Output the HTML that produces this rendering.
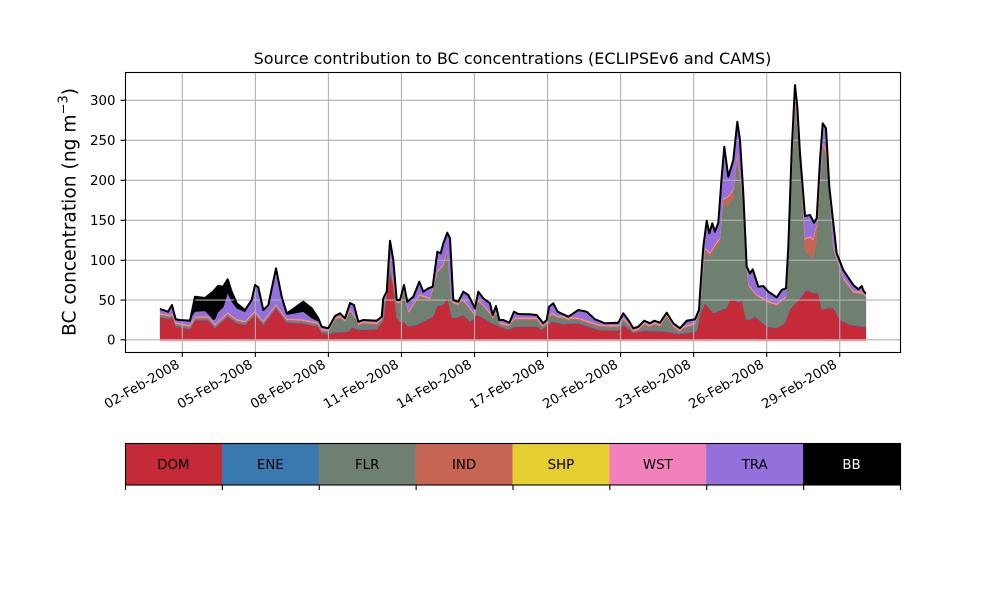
<!DOCTYPE html>
<html><head><meta charset="utf-8">
<style>
body{margin:0;background:#fff}
svg{display:block}
text{font-family:"DejaVu Sans","Liberation Sans",sans-serif;fill:#000}
</style></head>
<body>
<svg id="s" width="1000" height="600" xmlns="http://www.w3.org/2000/svg">
<rect width="1000" height="600" fill="#fff"/>
<g id="areas"></g>
<g stroke="#b0b0b0" stroke-width="1.1" fill="none">
<line x1="125" y1="100.3" x2="900" y2="100.3"/>
<line x1="125" y1="140.3" x2="900" y2="140.3"/>
<line x1="125" y1="180.3" x2="900" y2="180.3"/>
<line x1="125" y1="220.3" x2="900" y2="220.3"/>
<line x1="125" y1="260.3" x2="900" y2="260.3"/>
<line x1="125" y1="300.1" x2="900" y2="300.1"/>
<line x1="125" y1="339.8" x2="900" y2="339.8"/>
<line x1="182.3" y1="72" x2="182.3" y2="352"/>
<line x1="255.35" y1="72" x2="255.35" y2="352"/>
<line x1="328.4" y1="72" x2="328.4" y2="352"/>
<line x1="401.45" y1="72" x2="401.45" y2="352"/>
<line x1="474.5" y1="72" x2="474.5" y2="352"/>
<line x1="547.55" y1="72" x2="547.55" y2="352"/>
<line x1="620.6" y1="72" x2="620.6" y2="352"/>
<line x1="693.65" y1="72" x2="693.65" y2="352"/>
<line x1="766.7" y1="72" x2="766.7" y2="352"/>
<line x1="839.75" y1="72" x2="839.75" y2="352"/>
</g>
<line x1="160" y1="340.2" x2="866" y2="340.2" stroke="#e0a0a8" stroke-width="2"/>
<g id="lines"></g>
<rect x="125.5" y="72.5" width="775" height="280" fill="none" stroke="#000" stroke-width="1.1"/>
<g stroke="#000" stroke-width="1.1">
<line x1="120.5" y1="100.3" x2="125" y2="100.3"/>
<line x1="120.5" y1="140.3" x2="125" y2="140.3"/>
<line x1="120.5" y1="180.3" x2="125" y2="180.3"/>
<line x1="120.5" y1="220.3" x2="125" y2="220.3"/>
<line x1="120.5" y1="260.3" x2="125" y2="260.3"/>
<line x1="120.5" y1="300.1" x2="125" y2="300.1"/>
<line x1="120.5" y1="339.8" x2="125" y2="339.8"/>
<line x1="182.3" y1="352" x2="182.3" y2="357"/>
<line x1="255.35" y1="352" x2="255.35" y2="357"/>
<line x1="328.4" y1="352" x2="328.4" y2="357"/>
<line x1="401.45" y1="352" x2="401.45" y2="357"/>
<line x1="474.5" y1="352" x2="474.5" y2="357"/>
<line x1="547.55" y1="352" x2="547.55" y2="357"/>
<line x1="620.6" y1="352" x2="620.6" y2="357"/>
<line x1="693.65" y1="352" x2="693.65" y2="357"/>
<line x1="766.7" y1="352" x2="766.7" y2="357"/>
<line x1="839.75" y1="352" x2="839.75" y2="357"/>
</g>
<g font-size="13.33" text-anchor="end">
<text x="115.5" y="105">300</text>
<text x="115.5" y="145">250</text>
<text x="115.5" y="185">200</text>
<text x="115.5" y="225">150</text>
<text x="115.5" y="265">100</text>
<text x="115.5" y="304.8">50</text>
<text x="115.5" y="344.5">0</text>
</g>
<g font-size="13.33" text-anchor="end">
<text transform="translate(180.5,367) rotate(-30)">02-Feb-2008</text>
<text transform="translate(253.5,367) rotate(-30)">05-Feb-2008</text>
<text transform="translate(326.6,367) rotate(-30)">08-Feb-2008</text>
<text transform="translate(399.6,367) rotate(-30)">11-Feb-2008</text>
<text transform="translate(472.7,367) rotate(-30)">14-Feb-2008</text>
<text transform="translate(545.7,367) rotate(-30)">17-Feb-2008</text>
<text transform="translate(618.8,367) rotate(-30)">20-Feb-2008</text>
<text transform="translate(691.8,367) rotate(-30)">23-Feb-2008</text>
<text transform="translate(764.9,367) rotate(-30)">26-Feb-2008</text>
<text transform="translate(837.9,367) rotate(-30)">29-Feb-2008</text>
</g>
<text x="512.5" y="64" font-size="16" text-anchor="middle">Source contribution to BC concentrations (ECLIPSEv6 and CAMS)</text>
<text transform="translate(75.5,212) rotate(-90)" font-size="18.67" text-anchor="middle">BC concentration (ng m<tspan font-size="13" dy="-8">−3</tspan><tspan dy="8">)</tspan></text>
<g id="cbar"></g>
</svg>
<script>
(function(){
var NS="http://www.w3.org/2000/svg";
function mk(a){var p=[];for(var i=0;i<a.length;i+=2)p.push([a[i],a[i+1]]);return function(x){if(x<=p[0][0])return p[0][1];for(var i=1;i<p.length;i++){if(x<=p[i][0]){var x0=p[i-1][0],y0=p[i-1][1],x1=p[i][0],y1=p[i][1];return y0+(y1-y0)*(x-x0)/(x1-x0);}}return p[p.length-1][1];};}
var Tp=[160,309,168,311.7,172,305,175.7,319.3,180,320,190,320.7,195,296.7,205,298,213,291.7,218,286,223,286.7,227.7,279.3,231.7,291.7,236.7,303.3,245,310,251.7,300,255,285,258.3,287.3,263.3,310,268.3,305,276,268.3,281.7,296.7,286.7,313.3,291.7,310,303.3,301.7,311.7,308.3,318.3,318.3,321.7,326.7,328.3,328.3,335,316,340,313.3,345,318.3,350,303,354,305,358.3,321.7,363.3,320,376.7,320.7,381.7,316.7,383.3,298.3,386.7,291.7,390,240.7,393.3,260,396.7,300,400,300,404,285,407.3,301.7,413.3,296.7,419.3,281.7,423.3,291.7,428.3,288.3,432.7,286.7,437.3,251.7,440.7,253.3,443.3,243.3,447.3,232.7,450,238.3,453.3,300,458.3,301.7,463.3,291.7,468.3,295,475,308.3,478.3,291.7,483.3,298.3,490,303.3,492.7,315,496,306,499.3,320,503.3,320,509.3,322.7,514,311.7,518.3,314,530,314.3,536.7,315,543.3,323.3,546.7,320,549,306.7,553.3,303.3,557.7,311.7,568.3,316.7,578.3,310,586.7,311.7,595,319.3,605,323.3,618.3,322.7,623.3,313.3,628.3,320,633.3,328.3,638.3,326.7,644.3,320.7,650,323.3,654.3,320.7,660,322.7,666.7,312.7,673.3,323.3,680,328.3,686.7,320.7,695,319.3,699,310,700,293.3,703.3,246.7,706.7,220.7,709.3,233.3,712.3,223.3,715,231.7,718.3,222.7,721.7,176.7,724.3,146.7,728.3,176.7,733.3,160,737.3,121.7,740,140,743.3,193.3,746.7,266.7,750,273.3,752.7,269.3,758.3,286.7,763.3,286,768.3,291.7,776.7,297.3,781.7,290,786,288.3,788.3,246.7,791.7,150,795,85,797.3,106.7,800,153.3,805,216,810,215,814,222.7,816.7,218.3,820,160,822.7,123.3,826,128.3,829.3,186.7,836.7,253.3,843.3,270,853.3,285,858.3,289.3,861.7,286,864,291.7,865.7,293.3];
var BBp=[160,0,190,0,192,5,195,15,205,13,210,22,213,28,215,30,220,24,224,20,227.7,14,231.7,10,236.7,5,245,2,255,0,276,0,286,1,291.7,4,303.3,10,311.7,10,318.3,3,322,0,866,0];
var Dp=[160,317.3,170,319.3,172.3,317,175.7,326.7,190,329.3,195,320.5,208.3,320.5,215,328.3,227.7,316.5,236.7,323.3,245,325,255,315,263.3,325,276,308.3,286.7,322.7,301.7,323.3,318.3,326.7,321.7,333.3,328.3,334,336.7,332.5,348.3,331.7,352,327.5,358.3,330,376.7,329.3,383.3,320,390,271.7,393.3,286.7,396.7,318,401.7,323,404,322,408.3,326.7,416.7,325,426.7,320,433.3,316.7,437.3,306,443.3,305,447.3,297.3,451.7,318,456.7,318,463.3,315,470,321.7,477.3,315,483.3,318.3,491.7,323.3,500,326.7,508.3,330,515,326.7,536.7,326.7,541.7,330,551.7,321.7,563.3,324.3,578.3,323.3,598.3,330,618.3,330.7,623.3,325,633.3,332.7,645,330.7,665,331.7,680,334,696.7,331.7,700.7,313.3,705,303.3,713.3,313.3,720,310.7,726.7,308.3,730,300,735,299.3,738.3,303.3,741.7,299.3,746,320,750,320,755,316.7,766.7,326.7,776.7,328.3,785,323.3,790,309.3,798.3,300.7,806.7,290,813.3,293.3,818.3,293.3,821.7,310,826.7,308.3,833.3,308.3,840,320,850,325,861.7,326.7,866,326.7];
var Fp=[325,331.5,330,324,335,320,340,318,345,322,350,311.7,358.3,323,376.7,325,383.3,306.7,390,263.3,396.7,304,404,291.7,408.3,314,419.3,296.7,430,300,437.3,273.3,443.3,266.7,447.3,253.3,451.7,303.3,456.7,303.3,463.3,301.7,470,310,475,316.7,477.3,301.7,483.3,306.7,491.7,316.7,496.7,314.3,500,325,508.3,326.7,515,320,536.7,320,541.7,326.7,545,321.7,551.7,315,558.3,318.3,563.3,318.3,578.3,320,598.3,326.7,618.3,327.7,623.3,320,633.3,330.7,644.3,325,666.7,316.7,680,330,695,325,700,306.7,705,251.7,710,256.7,715,248.3,720,241.7,722.7,205,728.3,205,733.3,198,737.3,160,743.3,205,748.3,286.7,756.7,296.7,768.3,303.3,776.7,306,786,298.3,790,210,795,103.3,800,160,805,251.7,813.3,258.3,816.7,240,822.7,148,826.7,156,833.3,250,843.3,280,853.3,293.3,866,295];
var INp=[160,1.2,385,1.2,390,2,395,1.2,440,1.2,447,3,452,1.2,700,1.2,705,3,720,3,722.7,5,728,8,735,8,738,6,743,3,747,1.2,790,1.2,797,3,802,6,806,14,810,18,815,18,818,10,822,5,830,2,840,1.5,866,1.2];
var T=mk(Tp),BB=mk(BBp),D=mk(Dp),F=mk(Fp),IN=mk(INp);
var xs={};for(var x=160;x<=866;x++)xs[x]=1;for(var i=0;i<Tp.length;i+=2)xs[Tp[i]]=1;
var X=Object.keys(xs).map(Number).filter(function(v){return v>=160&&v<=866;}).sort(function(a,b){return a-b;});
var L={b:[],d:[],e:[],f:[],g:[],h:[],i:[],p:[],t:[]};
X.forEach(function(x){
 var t=T(x),p=t+BB(x),d=D(x),f=x<325?d-1.8:F(x),iv=IN(x);
 f=Math.min(f,d-0.8);
 var ii=f-iv-1.3;
 if(ii<p+1.5){var s=p+1.5-ii;ii+=s;f+=s;d=Math.max(d,f+0.8);}
 d=Math.min(d,339.5);
 L.b.push(340);L.d.push(d);L.e.push(d-0.8);L.f.push(f);L.g.push(f-iv);L.h.push(f-iv-0.3);L.i.push(ii);L.p.push(p);L.t.push(t);
});
function band(lo,hi,col){var s="M"+X[0]+" "+hi[0];for(var k=1;k<X.length;k++)s+="L"+X[k]+" "+hi[k].toFixed(2);for(var k=X.length-1;k>=0;k--)s+="L"+X[k]+" "+lo[k].toFixed(2);s+="Z";var el=document.createElementNS(NS,"path");el.setAttribute("d",s);el.setAttribute("fill",col);el.setAttribute("stroke",col);el.setAttribute("stroke-width","0.3");document.getElementById("areas").appendChild(el);}
band(L.b,L.d,"#c42a37");
band(L.d,L.e,"#3a79b0");
band(L.e,L.f,"#6f7f70");
band(L.f,L.g,"#c76554");
band(L.g,L.h,"#e5cf30");
band(L.h,L.i,"#f280bd");
band(L.i,L.p,"#9370db");
band(L.p,L.t,"#000000");
var s="";for(var k=0;k<X.length;k++)s+=(k?"L":"M")+X[k]+" "+L.t[k].toFixed(2);
var pl=document.createElementNS(NS,"path");pl.setAttribute("d",s);pl.setAttribute("fill","none");pl.setAttribute("stroke","#000");pl.setAttribute("stroke-width","2");pl.setAttribute("stroke-linejoin","round");
document.getElementById("lines").appendChild(pl);
var cb=document.getElementById("cbar");
var names=["DOM","ENE","FLR","IND","SHP","WST","TRA","BB"];
var cols=["#c42a37","#3a79b0","#6f7f70","#c76554","#e5cf30","#f280bd","#9370db","#000000"];
var w=775/8,h="";
for(var j=0;j<8;j++){var x0=125+j*w;h+='<rect x="'+x0+'" y="443" width="'+(w+0.3)+'" height="42" fill="'+cols[j]+'"/>';h+='<text x="'+(x0+w/2)+'" y="468.8" font-size="13.33" text-anchor="middle" style="fill:'+(j==7?"#fff":"#000")+'">'+names[j]+'</text>';}
h+='<rect x="125.5" y="443.5" width="775" height="41.5" fill="none" stroke="#000" stroke-width="1.1"/>';
for(var j=0;j<=8;j++){var xx=125.5+j*w;if(j==8)xx=900.5;h+='<line x1="'+xx+'" y1="485" x2="'+xx+'" y2="490" stroke="#000" stroke-width="1.1"/>';}
cb.innerHTML=h;
})();
</script>
</body></html>
